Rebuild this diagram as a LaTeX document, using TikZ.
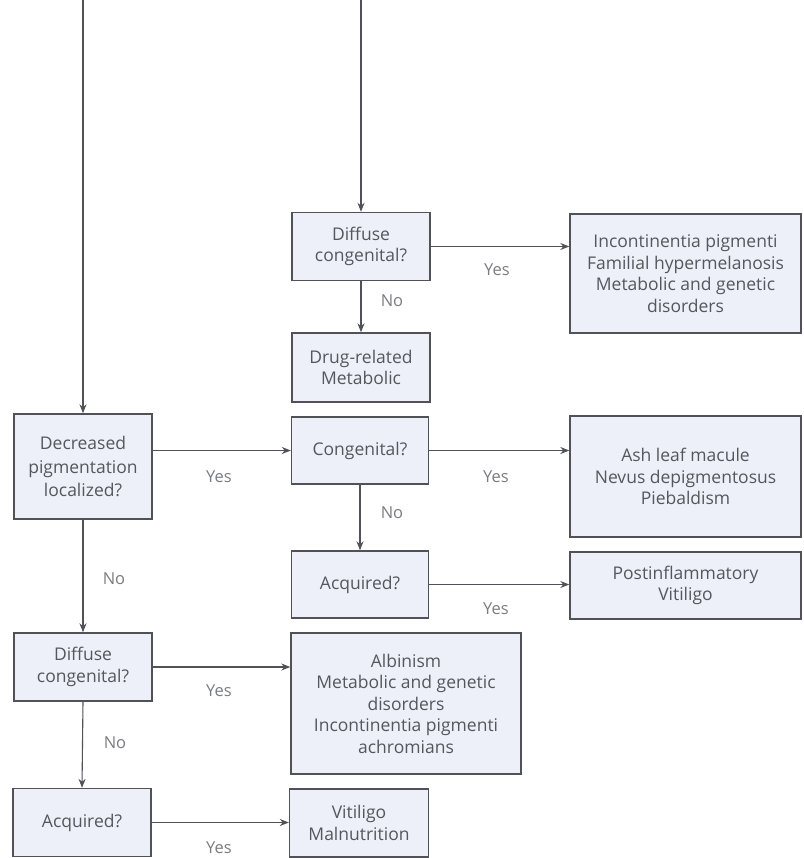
\documentclass[tikz,border=0pt]{standalone}
\usepackage{fontspec}
\setmainfont{Open Sans}
\usetikzlibrary{arrows.meta}
\definecolor{boxfill}{HTML}{EEF0F9}
\definecolor{boxline}{HTML}{505258}
\definecolor{txt}{HTML}{55575E}
\definecolor{lbl}{HTML}{7A7C82}
\begin{document}
\begin{tikzpicture}[x=1pt,y=-1pt,
  box/.style={draw=boxline,line width=1.4pt,fill=boxfill,rectangle,
    inner sep=0pt,align=center,text=txt,font=\fontsize{17.5}{21.5}\selectfont},
  arr/.style={draw=boxline,line width=1.1pt,-{Stealth[length=9pt,width=7pt]}},
  lab/.style={text=lbl,font=\fontsize{16.5}{18}\selectfont,inner sep=0pt}]
\useasboundingbox (0,0) rectangle (803,858);

% middle column
\node[box,minimum width=138pt,minimum height=68pt] (d1) at (361,246.5) {Diffuse\\congenital?};
\node[box,minimum width=138pt,minimum height=69pt] (drug) at (361,367.5) {Drug-related\\Metabolic};
\node[box,minimum width=137pt,minimum height=67pt] (cong) at (360,450.5) {Congenital?};
\node[box,minimum width=137pt,minimum height=67pt] (acq) at (360,584.5) {Acquired?};
\node[box,minimum width=230pt,minimum height=141pt] (alb) at (406,703.5)
  {Albinism\\Metabolic and genetic\\disorders\\Incontinentia pigmenti\\achromians};
\node[box,minimum width=139pt,minimum height=68pt] (vit) at (359,823)
  {Vitiligo\\Malnutrition};

% right column
\node[box,minimum width=231pt,minimum height=119pt] (r1) at (685.5,273.5)
  {Incontinentia pigmenti\\Familial hypermelanosis\\Metabolic and genetic\\disorders};
\node[box,minimum width=231pt,minimum height=121pt] (r2) at (685.5,476.5)
  {Ash leaf macule\\Nevus depigmentosus\\Piebaldism};
\node[box,minimum width=231pt,minimum height=67pt] (r3) at (685.5,585.5)
  {Postinflammatory\\Vitiligo};

% left column
\node[box,minimum width=138pt,minimum height=105pt,
  font=\fontsize{17.5}{23.5}\selectfont] (dec) at (83,466.5)
  {Decreased\\pigmentation\\localized?};
\node[box,minimum width=138pt,minimum height=68pt] (dif2) at (83,667)
  {Diffuse\\congenital?};
\node[box,minimum width=138pt,minimum height=68pt] (acq3) at (82,822.5)
  {Acquired?};

% incoming lines from above
\coordinate (inL) at (83,0);
\coordinate (inM) at (361,0);
\draw[arr] (inL) -- (dec.north);
\draw[arr] (inM) -- (d1.north);

% connectors
\draw[arr] (d1.east) -- (d1.east -| r1.west);
\draw[arr] (d1.south) -- (drug.north);
\draw[arr] (cong.west -| dec.east) -- (cong.west);
\draw[arr] (cong.east) -- (cong.east -| r2.west);
\draw[arr] (cong.south) -- (acq.north);
\draw[arr] (acq.east) -- (acq.east -| r3.west);
\draw[arr] (dec.south) -- (dif2.north);
\draw[arr] (dif2.east) -- (dif2.east -| alb.west);
\draw[arr] (dif2.south) -- (acq3.north);
\draw[arr] (acq3.east) -- (acq3.east -| vit.west);

% branch labels
\node[lab] (y1) at (497,270) {Yes};
\node[lab] (n1) at (392,301) {No};
\node[lab] (y2) at (219,477) {Yes};
\node[lab] (y3) at (496,477) {Yes};
\node[lab] (n2) at (392,513) {No};
\node[lab] (y4) at (496,609) {Yes};
\node[lab] (n3) at (114,579) {No};
\node[lab] (y5) at (219,691) {Yes};
\node[lab] (n4) at (115,743) {No};
\node[lab] (y6) at (219,848) {Yes};
\end{tikzpicture}
\end{document}
